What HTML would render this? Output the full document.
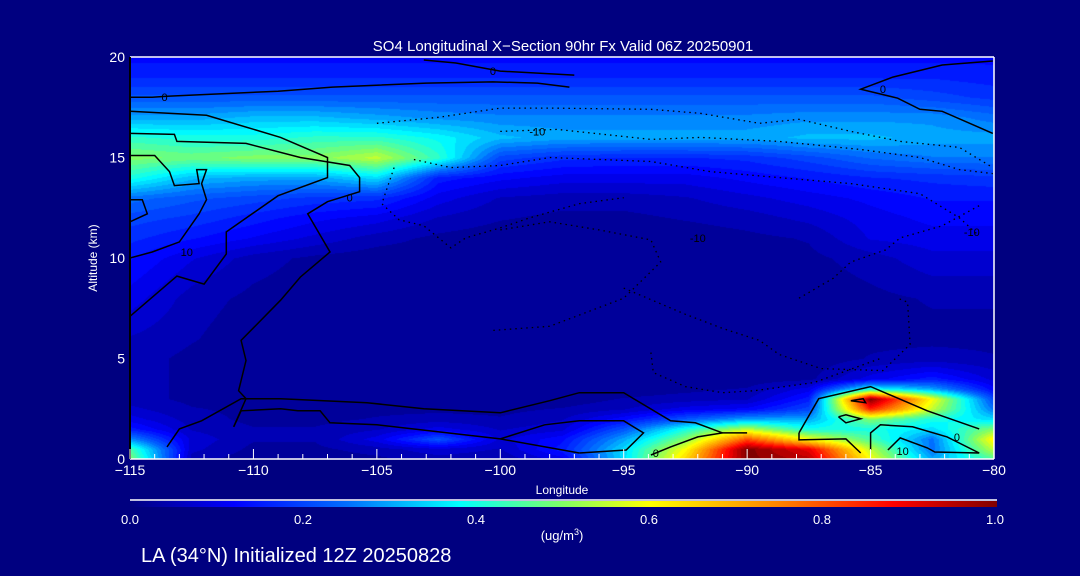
<!DOCTYPE html>
<html><head><meta charset="utf-8">
<style>
html,body{margin:0;padding:0;background:#000080;}
#wrap{position:relative;width:1080px;height:576px;background:#000080;overflow:hidden;font-family:"Liberation Sans",sans-serif;color:#fff;}
canvas{position:absolute;left:130px;top:57px;}
svg{position:absolute;left:0;top:0;}
</style></head><body>
<div id="wrap">
<canvas id="cv" width="864" height="402"></canvas>
<svg id="sv" width="1080" height="576"></svg>
</div>
<script>
// ---- data ----
const lons = [-115,-112.5,-110,-107.5,-105,-102.5,-100,-97.5,-95,-92.5,-90,-87.5,-85,-82.5,-80];
const alts = [0,0.5,1,1.5,2,2.5,3,3.5,4,5,6,8,10,11,12,13,14,15,16,17,18,19,20];
const so4 = [
[0.5,0.05,0.02,0.02,0.03,0.05,0.04,0.1,0.35,0.65,1.0,0.95,0.6,0.3,0.45],
[0.45,0.07,0.03,0.03,0.05,0.08,0.06,0.15,0.35,0.6,1.0,0.9,0.55,0.25,0.55],
[0.28,0.08,0.04,0.04,0.1,0.22,0.08,0.13,0.3,0.5,0.8,0.6,0.45,0.25,0.62],
[0.15,0.06,0.04,0.04,0.06,0.1,0.06,0.08,0.22,0.4,0.55,0.4,0.4,0.35,0.5],
[0.1,0.05,0.03,0.03,0.04,0.05,0.04,0.06,0.13,0.22,0.3,0.3,0.5,0.4,0.35],
[0.07,0.04,0.03,0.02,0.03,0.03,0.03,0.04,0.06,0.1,0.12,0.2,0.85,0.55,0.25],
[0.05,0.03,0.02,0.02,0.02,0.02,0.02,0.02,0.04,0.05,0.06,0.15,1.0,0.6,0.2],
[0.05,0.03,0.02,0.02,0.02,0.02,0.02,0.02,0.02,0.03,0.04,0.1,0.4,0.3,0.12],
[0.05,0.03,0.02,0.02,0.02,0.02,0.02,0.02,0.02,0.02,0.02,0.03,0.1,0.15,0.08],
[0.05,0.03,0.02,0.02,0.02,0.02,0.02,0.02,0.02,0.02,0.02,0.02,0.04,0.05,0.04],
[0.06,0.04,0.02,0.02,0.02,0.02,0.02,0.02,0.02,0.02,0.02,0.02,0.03,0.03,0.03],
[0.1,0.05,0.03,0.02,0.02,0.02,0.02,0.02,0.02,0.02,0.02,0.02,0.03,0.04,0.04],
[0.14,0.09,0.05,0.03,0.02,0.02,0.02,0.02,0.02,0.02,0.02,0.03,0.05,0.08,0.08],
[0.17,0.14,0.11,0.08,0.05,0.03,0.02,0.02,0.02,0.02,0.03,0.04,0.09,0.1,0.1],
[0.2,0.18,0.15,0.12,0.1,0.06,0.04,0.03,0.03,0.04,0.05,0.07,0.1,0.12,0.12],
[0.25,0.22,0.2,0.18,0.17,0.1,0.06,0.05,0.05,0.06,0.08,0.1,0.12,0.14,0.14],
[0.4,0.32,0.3,0.3,0.35,0.15,0.12,0.1,0.1,0.1,0.12,0.14,0.16,0.17,0.18],
[0.5,0.48,0.5,0.5,0.55,0.42,0.2,0.17,0.16,0.16,0.17,0.2,0.24,0.26,0.26],
[0.42,0.4,0.4,0.42,0.42,0.38,0.32,0.3,0.3,0.3,0.3,0.32,0.32,0.3,0.3],
[0.3,0.3,0.32,0.32,0.3,0.28,0.27,0.27,0.27,0.27,0.27,0.28,0.28,0.28,0.25],
[0.22,0.22,0.22,0.22,0.22,0.22,0.22,0.22,0.22,0.22,0.22,0.22,0.22,0.2,0.18],
[0.16,0.16,0.16,0.16,0.16,0.16,0.16,0.16,0.16,0.16,0.16,0.16,0.16,0.16,0.15],
[0.13,0.13,0.13,0.13,0.13,0.13,0.13,0.13,0.13,0.13,0.13,0.13,0.13,0.13,0.13]
];
const xTicks = [-115,-110,-105,-100,-95,-90,-85,-80];
const yTicks = [0,5,10,15,20];
const cbTicks = [0.0,0.2,0.4,0.6,0.8,1.0];
// contour lines [lon,alt]
const solidContours = [
 [[-115,18.0],[-114.1,18.0],[-113.5,18.05],[-109,18.3],[-106.8,18.5],[-103,18.7],[-100.3,18.76],[-98.5,18.7],[-97.2,18.5]],
 [[-103.1,19.85],[-101.8,19.7],[-100,19.3],[-97,19.1]],
 [[-80.05,19.8],[-82.1,19.6],[-84.1,19.0],[-85.4,18.4],[-83.9,17.95],[-83,17.4],[-82.1,17.3],[-80.05,16.2]],
 [[-115,17.3],[-111.9,17.1],[-108.9,16.0],[-107,15.0],[-107,14.0],[-109,13.1],[-111.1,11.3],[-111.1,10.2],[-112,8.7],[-113.1,9.1],[-115,7.1]],
 [[-115,16.2],[-113.2,16.15],[-113.1,15.8],[-110.3,15.7],[-108.1,15.0],[-106.1,14.6],[-105.7,14.0],[-105.7,13.3],[-107,12.8],[-107.8,12.2],[-106.9,10.3],[-108.1,9.05],[-108.9,7.9],[-110.5,5.9],[-110.3,4.9],[-110.6,3.4],[-110.3,3.0],[-110.8,1.6]],
 [[-115,15.1],[-114,15.1],[-113.4,14.3],[-113.2,13.6],[-112.2,13.7],[-112.3,14.4],[-111.9,14.4],[-112.1,13.7],[-111.9,12.9],[-112.2,12.2],[-113,10.8],[-114.1,10.3],[-115,10.0]],
 [[-115,12.9],[-114.5,12.9],[-114.3,12.2],[-115,11.8]],
 [[-113.5,0.6],[-113,1.5],[-112.1,1.9],[-110.5,3.0],[-108.9,3.0],[-105.4,2.8],[-103.1,2.5],[-100,2.3],[-98,2.9],[-96.8,3.3],[-95,3.3],[-93.1,1.9],[-92.1,1.8],[-91,1.3],[-90,1.3]],
 [[-110.8,1.6],[-110.5,2.4],[-108.9,2.5],[-108.2,2.4],[-107.3,2.4],[-106.9,1.8],[-105,1.7],[-100,1.0],[-96.8,0.3]],
 [[-100,1.0],[-98.2,1.7],[-96.8,1.9],[-95,1.9],[-94.2,1.3],[-94.9,0.45],[-96.8,0.3]],
 [[-93.9,0.2],[-93.1,0.6],[-92,1.1],[-91,1.3]],
 [[-87.9,1.3],[-87.1,3.0],[-85,3.6],[-82.7,2.4],[-80.6,1.5]],
 [[-87.9,1.3],[-87.9,0.95],[-86,1.0],[-85.4,0.3]],
 [[-85,0.45],[-85,1.3],[-84.6,1.7],[-83.3,1.6],[-81.9,1.1],[-80.6,0.3],[-82.4,0.35],[-82.7,0.55],[-83.8,1.05],[-84.3,0.45]],
 [[-86.3,2.1],[-86,2.2],[-85.4,2.0],[-86,1.8],[-86.3,2.1]],
 [[-85.8,2.9],[-85.2,2.8],[-85.3,3.0],[-85.8,2.9]]
];
const dottedContours = [
 [[-105,16.7],[-102.5,17.0],[-100,17.46],[-98,17.46],[-93.9,17.4],[-91.9,17.2],[-89.5,16.7],[-87.9,16.9],[-85.8,16.3],[-83.8,15.8],[-81.4,15.5],[-80.05,14.5]],
 [[-100,16.3],[-97.7,16.4],[-93.9,15.9],[-91.9,16.0],[-88.7,15.8],[-85.4,15.4],[-83,15.0],[-81.4,14.4],[-80.05,14.2]],
 [[-103.5,14.9],[-102,14.5],[-100,14.6],[-98,15.0],[-93.9,14.8],[-91.5,14.3],[-88.7,14.0],[-85.8,13.7],[-83,13.2],[-81.4,12.0],[-80.6,11.1]],
 [[-104.3,14.5],[-104.8,12.7],[-104.1,11.9],[-103.1,11.6],[-102,10.5],[-101.4,11.0],[-100,11.5],[-98.8,12.0],[-96.8,12.7],[-95,13.0]],
 [[-100,11.4],[-98,11.8],[-96,11.4],[-93.9,10.9],[-93.5,9.8],[-95,8.0],[-98,6.6],[-100.3,6.4]],
 [[-95,8.5],[-92.5,7.2],[-91,6.5],[-89.5,5.9],[-88.7,5.2],[-87,4.5],[-84.5,4.4],[-83.4,5.7],[-83.5,7.8],[-83.9,8.0]],
 [[-87.9,8.0],[-86.5,9.0],[-85.8,9.8],[-84.4,10.4],[-83.8,11.0],[-82.1,11.6],[-80.6,12.6]],
 [[-93.9,5.3],[-93.8,4.3],[-92.5,3.6],[-91,3.3],[-89.7,3.4],[-87.3,3.8],[-84.6,5.0]]
];
// ---- scales ----
const X0=130,X1=994,YB=459,YT=57;
function xs(lon){return X0+(lon+115)/35*(X1-X0);}
function ys(a){return YB-a/20*(YB-YT);}
const cstops=[[0,[0,0,128]],[0.12,[0,0,255]],[0.25,[0,110,255]],[0.38,[0,255,255]],[0.5,[130,255,100]],[0.6,[255,255,0]],[0.75,[255,128,0]],[0.88,[255,0,0]],[1,[128,0,0]]];
function cmap(v){v=Math.max(0,Math.min(1,v));for(let i=1;i<cstops.length;i++){if(v<=cstops[i][0]){const a=cstops[i-1],b=cstops[i];const t=(v-a[0])/(b[0]-a[0]);return a[1].map((c,k)=>Math.round(c+(b[1][k]-c)*t));}}return cstops[cstops.length-1][1];}
function idx(arr,v){for(let i=0;i<arr.length-1;i++){if(v<=arr[i+1])return [i,(v-arr[i])/(arr[i+1]-arr[i])];}return [arr.length-2,1];}
// ---- heatmap ----
const cv=document.getElementById('cv');const ctx=cv.getContext('2d');
const W=cv.width,H=cv.height;const img=ctx.createImageData(W,H);
for(let py=0;py<H;py++){const alt=(YB-(py+YT))/(YB-YT)*20;const [j,ty]=idx(alts,Math.max(0,alt));
 for(let px=0;px<W;px++){const lon=-115+(px+0.5)/W*35;const [i,tx]=idx(lons,lon);
  const v=(so4[j][i]*(1-tx)+so4[j][i+1]*tx)*(1-ty)+(so4[j+1][i]*(1-tx)+so4[j+1][i+1]*tx)*ty;
  const q=Math.round(v*40)/40;const c=cmap(q);const o=(py*W+px)*4;img.data[o]=c[0];img.data[o+1]=c[1];img.data[o+2]=c[2];img.data[o+3]=255;}}
ctx.putImageData(img,0,0);
// ---- svg ----
const NS='http://www.w3.org/2000/svg';const sv=document.getElementById('sv');
function mk(t,at,txt){const e=document.createElementNS(NS,t);for(const k in at)e.setAttribute(k,at[k]);if(txt!==undefined)e.textContent=txt;sv.appendChild(e);return e;}
solidContours.forEach(c=>{const e=mk('polyline',{points:c.map(p=>xs(p[0]).toFixed(1)+','+ys(p[1]).toFixed(1)).join(' '),fill:'none',stroke:'#000','stroke-width':1.5});

});
dottedContours.forEach(c=>{const e=mk('polyline',{points:c.map(p=>xs(p[0]).toFixed(1)+','+ys(p[1]).toFixed(1)).join(' '),fill:'none',stroke:'#000','stroke-width':1.3,'stroke-dasharray':'1.5,4'});

});
[[-113.6,18.0,'0'],[-106.1,13.0,'0'],[-112.7,10.3,'10'],[-100.3,19.3,'0'],[-84.5,18.4,'0'],[-98.5,16.3,'-10'],[-92,11.0,'-10'],[-80.9,11.3,'-10'],[-93.7,0.3,'0'],[-81.5,1.1,'0'],[-83.7,0.4,'10']].forEach(l=>{const e=mk('text',{x:xs(l[0]),y:ys(l[1])+4,'font-size':11,fill:'#000','text-anchor':'middle','font-family':'Liberation Sans, sans-serif'},l[2]);

});
mk('line',{x1:X0,y1:YT,x2:X1,y2:YT,stroke:'#fff','stroke-width':1.5,});
mk('line',{x1:X1,y1:YT,x2:X1,y2:YB,stroke:'#fff','stroke-width':1.5,});
mk('line',{x1:X0,y1:YB,x2:X1,y2:YB,stroke:'#fff','stroke-width':1.5,});
mk('line',{x1:X0,y1:YT,x2:X0,y2:YB,stroke:'#000','stroke-width':2,});
for(let l=-115;l<=-80;l++){const mj=l%5===0;const e=mk('line',{x1:xs(l),y1:YB,x2:xs(l),y2:YB-(mj?10:5),stroke:'#fff','stroke-width':1});

}
xTicks.forEach(t=>{const e=mk('text',{x:xs(t),y:475,'font-size':14,fill:'#fff','text-anchor':'middle'},String(t).replace('-','\u2212'));

});
yTicks.forEach(t=>{const e=mk('text',{x:125,y:ys(t)+5,'font-size':14,fill:'#fff','text-anchor':'end'},String(t));

});
mk('text',{x:563,y:51,'font-size':15,fill:'#fff','text-anchor':'middle',},'SO4 Longitudinal X\u2212Section 90hr  Fx Valid 06Z 20250901');
mk('text',{x:97,y:258,'font-size':12,fill:'#fff','text-anchor':'middle',transform:'rotate(-90 97 258)',},'Altitude (km)');
mk('text',{x:562,y:494,'font-size':12,fill:'#fff','text-anchor':'middle',},'Longitude');
const defs=mk('defs',{});const g=document.createElementNS(NS,'linearGradient');g.setAttribute('id','cb');defs.appendChild(g);
cstops.forEach(s=>{const st=document.createElementNS(NS,'stop');st.setAttribute('offset',s[0]);st.setAttribute('stop-color','rgb('+s[1].join(',')+')');g.appendChild(st);});
mk('line',{x1:130,y1:500,x2:997,y2:500,stroke:'#fff','stroke-width':1.5,});
mk('rect',{x:130,y:501,width:867,height:6,fill:'url(#cb)',});
cbTicks.forEach(t=>{const e=mk('text',{x:130+t*865,y:524,'font-size':13,fill:'#fff','text-anchor':'middle'},t.toFixed(1));

});
const u=mk('text',{x:562,y:540,'font-size':13,fill:'#fff','text-anchor':'middle',});
u.innerHTML='(ug/m<tspan dy="-5" font-size="9">3</tspan><tspan dy="5">)</tspan>';
mk('text',{x:141,y:562,'font-size':20,fill:'#fff',},'LA (34\u00b0N) Initialized 12Z 20250828');
</script>
</body></html>
